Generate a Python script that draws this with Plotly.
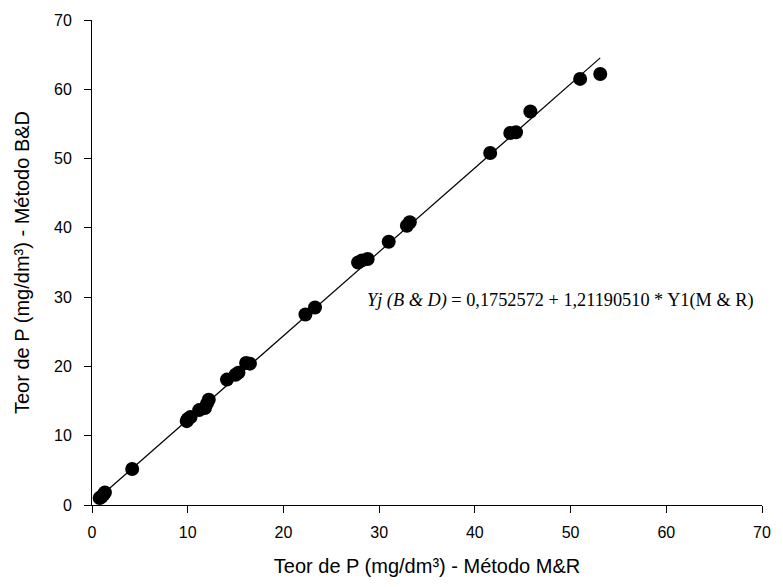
import plotly.graph_objects as go

# Data
x_mr = [0.8, 1.0, 1.2, 1.35, 4.2, 9.9, 10.0, 10.3, 11.2, 11.8, 12.0, 12.2,
        14.1, 15.0, 15.3, 16.1, 16.5, 22.3, 23.3, 27.8, 28.2, 28.8, 31.0,
        32.9, 33.2, 41.6, 43.7, 44.3, 45.8, 51.0, 53.1]
y_bd = [1.0, 1.2, 1.5, 1.8, 5.2, 12.1, 12.4, 12.7, 13.7, 14.0, 14.6, 15.2,
        18.1, 18.8, 19.1, 20.5, 20.4, 27.5, 28.5, 35.0, 35.3, 35.5, 38.0,
        40.3, 40.8, 50.8, 53.7, 53.8, 56.8, 61.5, 62.2]

intercept = 0.1752572
slope = 1.21190510

x_ticks = [0, 10, 20, 30, 40, 50, 60, 70]
y_ticks = [0, 10, 20, 30, 40, 50, 60, 70]

x_line = [min(x_mr), max(x_mr)]
y_line = [intercept + slope * v for v in x_line]

fig = go.Figure()
fig.add_trace(go.Scatter(x=x_line, y=y_line, mode="lines",
                         line=dict(color="black", width=1.2),
                         hoverinfo="skip", showlegend=False))
fig.add_trace(go.Scatter(x=x_mr, y=y_bd, mode="markers",
                         marker=dict(color="black", size=14),
                         cliponaxis=False, showlegend=False))

axis_common = dict(showline=True, linecolor="black", linewidth=1,
                   ticks="outside", ticklen=7, tickwidth=1, tickcolor="black",
                   showgrid=False, zeroline=False, mirror=False,
                   tickfont=dict(family="Liberation Sans, Arial", size=16, color="black"))

fig.update_layout(
    width=783, height=587,
    margin=dict(l=92, r=13, t=15, b=82),
    plot_bgcolor="white", paper_bgcolor="white",
    xaxis=dict(range=[0, 70], tickvals=x_ticks, ticktext=[str(v) for v in x_ticks],
               ticklabelstandoff=6,
               title=dict(text="Teor de P (mg/dm³) - Método M&R",
                          font=dict(family="Liberation Sans, Arial", size=20, color="black"),
                          standoff=18),
               **axis_common),
    yaxis=dict(range=[0, 70], tickvals=y_ticks, ticktext=[str(v) for v in y_ticks],
               ticklabelstandoff=9,
               title=dict(text="Teor de P (mg/dm³) - Método B&D",
                          font=dict(family="Liberation Sans, Arial", size=20, color="black"),
                          standoff=19),
               **axis_common),
    annotations=[dict(
        x=48.9, y=29.5, xref="x", yref="y", showarrow=False,
        text="<i>Yj</i> <i>(B</i> <i>&</i> <i>D)</i> = 0,1752572 + 1,21190510 * Y1(M & R)",
        font=dict(family="Liberation Serif, Times New Roman", size=18.3, color="black"),
        xanchor="center", yanchor="middle")],
)

fig.write_html(
    "out.html",
    config={"displayModeBar": False},
    post_script="document.body.style.margin='0';document.body.style.overflow='hidden';",
)
